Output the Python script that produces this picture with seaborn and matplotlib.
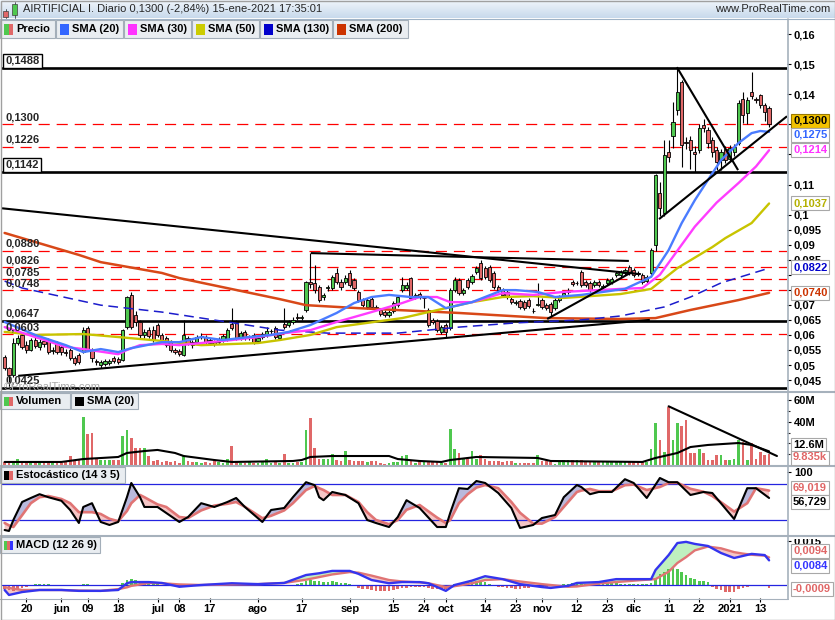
import matplotlib
matplotlib.use("Agg")

import matplotlib.pyplot as plt
from matplotlib.lines import Line2D
from matplotlib.patches import Rectangle
from matplotlib.colors import LinearSegmentedColormap
import numpy as np
import pandas as pd
import seaborn as sns

W, H = 835, 620

# daily candles, 13-may-2020 .. 15-ene-2021
opens = [
    0.0527, 0.0490, 0.0467, 0.0573, 0.0600, 0.0566, 0.0550, 0.0583, 0.0560, 0.0580,
    0.0583, 0.0546, 0.0573, 0.0560, 0.0543, 0.0550, 0.0523, 0.0533, 0.0543, 0.0623,
    0.0550, 0.0512, 0.0500, 0.0503, 0.0507, 0.0523, 0.0520, 0.0517, 0.0626, 0.0733,
    0.0666, 0.0643, 0.0600, 0.0616, 0.0616, 0.0633, 0.0600, 0.0590, 0.0580, 0.0550,
    0.0547, 0.0533, 0.0590, 0.0576, 0.0576, 0.0593, 0.0593, 0.0583, 0.0576, 0.0576,
    0.0583, 0.0583, 0.0636, 0.0643, 0.0590, 0.0610, 0.0590, 0.0600, 0.0580, 0.0593,
    0.0600, 0.0613, 0.0623, 0.0590, 0.0636, 0.0633, 0.0643, 0.0659, 0.0656, 0.0683,
    0.0776, 0.0773, 0.0759, 0.0726, 0.0756, 0.0756, 0.0806, 0.0776, 0.0776, 0.0806,
    0.0782, 0.0743, 0.0716, 0.0693, 0.0719, 0.0693, 0.0683, 0.0676, 0.0666, 0.0679,
    0.0699, 0.0749, 0.0756, 0.0789, 0.0726, 0.0736, 0.0723, 0.0683, 0.0650, 0.0646,
    0.0610, 0.0633, 0.0623, 0.0749, 0.0782, 0.0739, 0.0782, 0.0776, 0.0809, 0.0839,
    0.0822, 0.0826, 0.0806, 0.0759, 0.0749, 0.0743, 0.0719, 0.0706, 0.0713, 0.0709,
    0.0716, 0.0681, 0.0700, 0.0716, 0.0699, 0.0703, 0.0689, 0.0716, 0.0729, 0.0743,
    0.0776, 0.0772, 0.0809, 0.0776, 0.0773, 0.0766, 0.0776, 0.0759, 0.0773, 0.0776,
    0.0799, 0.0799, 0.0806, 0.0826, 0.0816, 0.0806, 0.0799, 0.0779, 0.0806, 0.0899,
    0.1072, 0.1005, 0.1208, 0.1261, 0.1347, 0.1441, 0.1241, 0.1248, 0.1208, 0.1215,
    0.1298, 0.1281, 0.1248, 0.1215, 0.1181, 0.1218, 0.1185, 0.1208, 0.1238, 0.1384,
    0.1337, 0.1407, 0.1384, 0.1397, 0.1364, 0.1355,
]
closes = [
    0.0490, 0.0467, 0.0573, 0.0590, 0.0560, 0.0550, 0.0583, 0.0563, 0.0576, 0.0570,
    0.0543, 0.0550, 0.0543, 0.0543, 0.0540, 0.0523, 0.0507, 0.0510, 0.0616, 0.0550,
    0.0523, 0.0510, 0.0510, 0.0513, 0.0513, 0.0513, 0.0510, 0.0616, 0.0726, 0.0626,
    0.0643, 0.0600, 0.0610, 0.0596, 0.0583, 0.0600, 0.0583, 0.0567, 0.0550, 0.0543,
    0.0537, 0.0600, 0.0573, 0.0567, 0.0593, 0.0596, 0.0576, 0.0573, 0.0570, 0.0586,
    0.0596, 0.0616, 0.0623, 0.0590, 0.0606, 0.0590, 0.0593, 0.0576, 0.0590, 0.0603,
    0.0613, 0.0613, 0.0593, 0.0600, 0.0626, 0.0643, 0.0650, 0.0656, 0.0659, 0.0776,
    0.0770, 0.0749, 0.0716, 0.0733, 0.0759, 0.0792, 0.0776, 0.0759, 0.0789, 0.0766,
    0.0756, 0.0716, 0.0699, 0.0716, 0.0693, 0.0689, 0.0670, 0.0666, 0.0676, 0.0706,
    0.0726, 0.0766, 0.0766, 0.0723, 0.0733, 0.0726, 0.0723, 0.0633, 0.0643, 0.0616,
    0.0626, 0.0610, 0.0749, 0.0782, 0.0739, 0.0749, 0.0759, 0.0796, 0.0822, 0.0789,
    0.0792, 0.0782, 0.0759, 0.0749, 0.0733, 0.0726, 0.0709, 0.0709, 0.0693, 0.0689,
    0.0696, 0.0679, 0.0703, 0.0693, 0.0689, 0.0676, 0.0716, 0.0726, 0.0739, 0.0746,
    0.0769, 0.0773, 0.0766, 0.0766, 0.0749, 0.0776, 0.0766, 0.0762, 0.0782, 0.0786,
    0.0806, 0.0809, 0.0816, 0.0806, 0.0799, 0.0803, 0.0776, 0.0792, 0.0882, 0.1131,
    0.1022, 0.1198, 0.1191, 0.1307, 0.1407, 0.1231, 0.1238, 0.1215, 0.1201, 0.1288,
    0.1288, 0.1238, 0.1208, 0.1175, 0.1208, 0.1181, 0.1221, 0.1225, 0.1371, 0.1331,
    0.1381, 0.1394, 0.1381, 0.1364, 0.1341, 0.1300,
]
highs = [
    0.0533, 0.0495, 0.0590, 0.0600, 0.0606, 0.0580, 0.0590, 0.0596, 0.0586, 0.0590,
    0.0590, 0.0560, 0.0580, 0.0566, 0.0553, 0.0556, 0.0530, 0.0540, 0.0626, 0.0630,
    0.0556, 0.0520, 0.0517, 0.0520, 0.0520, 0.0530, 0.0527, 0.0620, 0.0730, 0.0743,
    0.0680, 0.0650, 0.0620, 0.0626, 0.0630, 0.0640, 0.0606, 0.0596, 0.0583, 0.0556,
    0.0553, 0.0650, 0.0596, 0.0583, 0.0600, 0.0606, 0.0600, 0.0590, 0.0583, 0.0593,
    0.0603, 0.0623, 0.0689, 0.0650, 0.0613, 0.0616, 0.0600, 0.0606, 0.0596, 0.0610,
    0.0626, 0.0620, 0.0630, 0.0606, 0.0689, 0.0650, 0.0660, 0.0673, 0.0666, 0.0780,
    0.0872, 0.0832, 0.0766, 0.0740, 0.0766, 0.0800, 0.0822, 0.0786, 0.0799, 0.0816,
    0.0789, 0.0750, 0.0723, 0.0723, 0.0726, 0.0700, 0.0690, 0.0683, 0.0683, 0.0713,
    0.0733, 0.0792, 0.0776, 0.0792, 0.0740, 0.0743, 0.0730, 0.0690, 0.0656, 0.0653,
    0.0633, 0.0640, 0.0756, 0.0792, 0.0789, 0.0756, 0.0789, 0.0802, 0.0829, 0.0849,
    0.0829, 0.0832, 0.0812, 0.0766, 0.0756, 0.0749, 0.0726, 0.0716, 0.0720, 0.0716,
    0.0723, 0.0690, 0.0773, 0.0723, 0.0706, 0.0710, 0.0723, 0.0733, 0.0746, 0.0756,
    0.0782, 0.0780, 0.0816, 0.0782, 0.0779, 0.0782, 0.0782, 0.0769, 0.0789, 0.0792,
    0.0812, 0.0816, 0.0822, 0.0832, 0.0822, 0.0812, 0.0806, 0.0799, 0.0889, 0.1135,
    0.1108, 0.1248, 0.1248, 0.1374, 0.1488, 0.1447, 0.1258, 0.1261, 0.1228, 0.1301,
    0.1318, 0.1291, 0.1258, 0.1225, 0.1218, 0.1228, 0.1231, 0.1235, 0.1381, 0.1407,
    0.1391, 0.1474, 0.1391, 0.1401, 0.1371, 0.1361,
]
lows = [
    0.0483, 0.0427, 0.0460, 0.0565, 0.0553, 0.0540, 0.0545, 0.0555, 0.0550, 0.0560,
    0.0536, 0.0536, 0.0536, 0.0533, 0.0530, 0.0517, 0.0500, 0.0503, 0.0540, 0.0545,
    0.0510, 0.0500, 0.0490, 0.0497, 0.0500, 0.0507, 0.0503, 0.0513, 0.0620, 0.0620,
    0.0630, 0.0590, 0.0590, 0.0590, 0.0576, 0.0593, 0.0576, 0.0560, 0.0543, 0.0536,
    0.0530, 0.0530, 0.0566, 0.0556, 0.0570, 0.0586, 0.0570, 0.0566, 0.0563, 0.0570,
    0.0576, 0.0580, 0.0616, 0.0583, 0.0583, 0.0583, 0.0583, 0.0570, 0.0573, 0.0586,
    0.0593, 0.0603, 0.0586, 0.0583, 0.0620, 0.0626, 0.0636, 0.0650, 0.0650, 0.0676,
    0.0755, 0.0740, 0.0710, 0.0716, 0.0745, 0.0750, 0.0770, 0.0750, 0.0770, 0.0760,
    0.0750, 0.0710, 0.0693, 0.0686, 0.0686, 0.0683, 0.0663, 0.0660, 0.0660, 0.0673,
    0.0693, 0.0743, 0.0749, 0.0716, 0.0720, 0.0720, 0.0689, 0.0626, 0.0636, 0.0610,
    0.0603, 0.0593, 0.0616, 0.0743, 0.0733, 0.0733, 0.0753, 0.0770, 0.0802, 0.0782,
    0.0786, 0.0776, 0.0753, 0.0743, 0.0726, 0.0720, 0.0703, 0.0699, 0.0686, 0.0683,
    0.0690, 0.0673, 0.0696, 0.0686, 0.0683, 0.0662, 0.0683, 0.0710, 0.0723, 0.0736,
    0.0763, 0.0766, 0.0759, 0.0759, 0.0743, 0.0760, 0.0760, 0.0753, 0.0766, 0.0770,
    0.0792, 0.0792, 0.0799, 0.0799, 0.0792, 0.0796, 0.0770, 0.0772, 0.0799, 0.0880,
    0.0995, 0.0995, 0.1175, 0.1221, 0.1331, 0.1158, 0.1218, 0.1151, 0.1141, 0.1205,
    0.1275, 0.1221, 0.1191, 0.1148, 0.1148, 0.1171, 0.1178, 0.1195, 0.1231, 0.1304,
    0.1301, 0.1384, 0.1371, 0.1354, 0.1311, 0.1291,
]
# volume in millions
volume_m = [
    3, 4, 4, 6, 3, 3, 2, 2, 2, 2,
    2, 2, 2, 2, 3, 8, 5, 6, 44, 29,
    30, 5.5, 5, 5, 5, 5, 5, 27, 32, 25,
    16, 16, 16, 8, 4, 4.5, 3, 4, 3, 4,
    1.5, 8.5, 4, 2.5, 2.5, 1.5, 2.5, 1.5, 3.5, 2.5,
    1.5, 6, 17.6, 3.5, 2, 2, 2.5, 2, 2, 3,
    6, 2, 2.5, 2, 10, 2, 2, 2.5, 3, 32,
    43, 16, 6, 5.5, 5.5, 10, 4.5, 3.5, 13, 4.5,
    3.5, 3.5, 4, 2.5, 3.5, 4, 1.5, 1, 1.5, 2.5,
    2.5, 8, 9, 4, 1.5, 3.5, 3, 4, 3.5, 3,
    1.5, 2, 33, 15, 11, 6, 6, 13, 6, 9,
    6, 4, 4, 3.5, 2.5, 3.5, 3.5, 1.5, 1.5, 2,
    2, 1.5, 9, 3.5, 4, 2.5, 1, 3.5, 4.5, 4.5,
    5, 5, 4.5, 4, 3.5, 3.5, 3.5, 3.5, 4, 4,
    4, 4, 4, 4, 3.5, 3.5, 2.5, 2.5, 15, 39,
    23, 12, 54, 23, 39, 36, 42, 11, 11, 15,
    11, 5, 5, 9, 9, 5, 5, 6, 23, 21,
    5, 20, 6, 12, 9, 9.835,
]
macd_hist = [
    -0.0012, -0.0017, -0.0020, -0.0015, -0.0010, -0.0006, -0.0003, 0.0002, 0.0004, 0.0004,
    0.0002, 0.0000, 0.0000, -0.0001, -0.0003, -0.0005, -0.0005, -0.0003, 0.0002, 0.0004,
    0.0001, -0.0003, -0.0005, -0.0005, -0.0004, -0.0002, 0.0000, 0.0008, 0.0018, 0.0022,
    0.0018, 0.0012, 0.0008, 0.0006, 0.0003, 0.0002, 0.0001, -0.0002, -0.0004, -0.0005,
    -0.0005, -0.0004, -0.0004, -0.0003, -0.0002, -0.0001, 0.0001, 0.0001, 0.0000, 0.0001,
    0.0001, 0.0001, 0.0000, -0.0001, 0.0000, -0.0001, -0.0003, -0.0005, -0.0005, -0.0003,
    0.0001, 0.0001, 0.0001, 0.0001, 0.0001, 0.0001, 0.0001, 0.0003, 0.0008, 0.0014,
    0.0016, 0.0014, 0.0013, 0.0011, 0.0010, 0.0012, 0.0009, 0.0008, 0.0006, 0.0003,
    -0.0003, -0.0011, -0.0013, -0.0015, -0.0017, -0.0019, -0.0021, -0.0022, -0.0021, -0.0017,
    -0.0013, -0.0010, -0.0009, -0.0008, -0.0007, -0.0007, -0.0008, -0.0010, -0.0012, -0.0013,
    -0.0014, -0.0012, -0.0002, 0.0003, 0.0006, 0.0008, 0.0009, 0.0011, 0.0013, 0.0015,
    0.0010, 0.0004, -0.0002, -0.0006, -0.0008, -0.0011, -0.0011, -0.0013, -0.0013, -0.0011,
    -0.0009, -0.0008, -0.0006, -0.0006, -0.0006, -0.0005, -0.0003, 0.0000, 0.0003, 0.0005,
    0.0006, 0.0006, 0.0005, 0.0005, 0.0004, 0.0004, 0.0005, 0.0006, 0.0006, 0.0006,
    0.0006, 0.0005, 0.0005, 0.0004, 0.0004, 0.0003, 0.0003, 0.0002, 0.0006, 0.0023,
    0.0037, 0.0046, 0.0053, 0.0060, 0.0053, 0.0046, 0.0034, 0.0023, 0.0019, 0.0015,
    0.0012, 0.0009, -0.0006, -0.0014, -0.0017, -0.0023, -0.0023, -0.0023, -0.0015, -0.0011,
    -0.0006, -0.0002, 0.0001, 0.0000, -0.0004, -0.0009,
]

# moving averages (bar index, value)
sma20_idx = [0, 7, 14, 18, 22, 26, 29, 36, 40, 45, 50, 56, 61, 65, 70, 76, 80, 84, 88, 93,
             97, 101, 107, 114, 117, 122, 126, 132, 142, 148, 152, 155, 158, 161, 164, 168,
             171, 173, 175]
sma20 = [0.0643, 0.0600, 0.0566, 0.0543, 0.0553, 0.0543, 0.0556, 0.0576, 0.0576, 0.0593,
         0.0583, 0.0593, 0.0600, 0.0610, 0.0633, 0.0673, 0.0706, 0.0726, 0.0733, 0.0726,
         0.0726, 0.0689, 0.0709, 0.0749, 0.0749, 0.0743, 0.0726, 0.0733, 0.0753, 0.0793,
         0.0882, 0.0972, 0.1048, 0.1115, 0.1181, 0.1238, 0.1271, 0.1278, 0.1275]
sma30_idx = [0, 7, 14, 18, 26, 28, 31, 36, 40, 52, 58, 64, 70, 76, 84, 91, 95, 99, 102, 107,
             114, 121, 128, 141, 146, 150, 154, 158, 163, 168, 172, 175]
sma30 = [0.0626, 0.0593, 0.0560, 0.0553, 0.0536, 0.0550, 0.0566, 0.0570, 0.0566, 0.0583,
         0.0593, 0.0606, 0.0616, 0.0643, 0.0676, 0.0706, 0.0726, 0.0726, 0.0709, 0.0709,
         0.0739, 0.0733, 0.0743, 0.0753, 0.0756, 0.0800, 0.0880, 0.0960, 0.1040, 0.1105,
         0.1160, 0.1214]
sma50_idx = [0, 7, 18, 26, 36, 45, 58, 63, 70, 76, 91, 107, 114, 121, 128, 141, 148, 154,
             162, 165, 171, 175]
sma50 = [0.0610, 0.0600, 0.0603, 0.0593, 0.0580, 0.0566, 0.0573, 0.0583, 0.0600, 0.0626,
         0.0656, 0.0709, 0.0726, 0.0729, 0.0723, 0.0736, 0.0753, 0.0822, 0.0892, 0.0922,
         0.0972, 0.1037]
sma130_idx = [0, 4, 22, 36, 51, 63, 74, 90, 104, 117, 132, 141, 151, 157, 164, 175]
sma130 = [0.0779, 0.0756, 0.0699, 0.0676, 0.0643, 0.0616, 0.0606, 0.0606, 0.0626, 0.0640,
          0.0650, 0.0663, 0.0693, 0.0726, 0.0773, 0.0822]
sma200_idx = [0, 17, 22, 36, 40, 63, 69, 81, 104, 124, 141, 149, 157, 168, 175]
sma200 = [0.0939, 0.0866, 0.0842, 0.0806, 0.0789, 0.0719, 0.0699, 0.0689, 0.0673, 0.0656,
          0.0653, 0.0656, 0.0683, 0.0716, 0.0740]

vol_sma_idx = [0, 13, 18, 26, 28, 32, 35, 39, 41, 48, 52, 66, 68, 70, 75, 88, 90, 95, 100,
               102, 108, 122, 125, 146, 149, 154, 157, 161, 168, 171, 175]
vol_sma = [2.8, 2.8, 5.5, 7.4, 11.1, 12.9, 13.9, 11.1, 8.3, 4.6, 2.8, 3.7, 4.6, 7.4, 8.3,
           8.3, 5.5, 3.7, 2.8, 4.6, 7.4, 6.5, 3.7, 2.8, 6.5, 11.1, 16.6, 18.5, 20.3, 18.5, 12.6]

stoch_idx = [0, 1, 2, 4, 6, 8, 10, 13, 15, 17,
             18, 20, 22, 24, 26, 28, 29, 31, 32, 35,
             37, 40, 42, 45, 48, 51, 53, 55, 59, 61,
             64, 66, 69, 71, 72, 73, 75, 78, 81, 83,
             85, 88, 90, 92, 95, 99, 101, 102, 104, 106,
             108, 110, 113, 116, 118, 121, 123, 126, 128, 131,
             132, 134, 136, 139, 142, 144, 147, 150, 152, 154,
             157, 160, 162, 167, 170, 172, 175]
stoch_k = [3.3, 1.7, 20, 50, 56.7, 63, 58, 52, 36.7, 15,
           41.7, 48, 16.7, 11.7, 16.7, 58, 81.7, 58, 41.7, 41.7,
           31.7, 16.7, 25, 48, 41.7, 50, 56.7, 41.7, 16.7, 36.7,
           40, 58, 83, 78, 58, 53, 66.7, 61.7, 48, 20,
           15, 8.3, 25, 53, 40, 8.3, 8.3, 31.7, 73, 71.7,
           85, 81.7, 65, 40, 6.7, 11.7, 23.3, 28.3, 58, 78.3,
           75, 63, 66.7, 66.7, 88, 81.7, 56.7, 90, 83, 83,
           61.7, 66.7, 65, 21.7, 73, 73, 56.7]
stoch_d = [15, 11, 8.3, 28, 48, 58, 60, 55, 48, 33,
           33, 33, 30, 22, 18, 35, 48, 61.7, 58, 46,
           41.7, 25, 23.3, 36, 44, 47, 50, 42, 23, 27,
           36, 48, 70, 76.7, 73, 70, 61.7, 61.7, 50, 33,
           20, 13, 20, 37, 45, 24, 15, 20, 48, 63,
           74, 78.3, 73, 50, 32, 14, 14, 25, 41.7, 66.7,
           69, 71.7, 68, 68, 78, 79, 70, 75, 81.7, 82,
           72, 67, 60, 34, 48, 73, 69]

macd_idx = [0, 1, 4, 8, 13, 17, 22, 26, 28, 29,
            33, 36, 40, 45, 52, 58, 64, 69, 72, 75,
            79, 81, 84, 88, 91, 95, 97, 101, 103, 107,
            110, 114, 118, 123, 125, 129, 131, 136, 140, 146,
            148, 149, 152, 154, 156, 158, 161, 164, 167, 169,
            171, 174, 175]
macd_line = [-0.0017, -0.0034, -0.0024, -0.0017, -0.0017, -0.0020, -0.0020, -0.0017, 0.0006, 0.0010,
             0.0010, 0.0007, -0.0006, 0.0000, 0.0006, 0.0003, 0.0007, 0.0034, 0.0040, 0.0048,
             0.0048, 0.0038, 0.0017, 0.0006, 0.0010, 0.0010, 0.0006, -0.0020, 0.0000, 0.0015,
             0.0030, 0.0020, 0.0003, -0.0007, -0.0010, -0.0003, 0.0007, 0.0010, 0.0020, 0.0020,
             0.0020, 0.0051, 0.0102, 0.0143, 0.0147, 0.0140, 0.0133, 0.0109, 0.0092, 0.0099,
             0.0106, 0.0102, 0.0084]
macd_signal = [-0.0007, -0.0010, -0.0017, -0.0017, -0.0017, -0.0019, -0.0020, -0.0014, -0.0008, -0.0003,
               0.0007, 0.0006, 0.0002, 0.0000, 0.0002, 0.0003, 0.0007, 0.0018, 0.0027, 0.0036,
               0.0044, 0.0042, 0.0032, 0.0017, 0.0012, 0.0009, 0.0006, -0.0007, -0.0004, 0.0006,
               0.0017, 0.0020, 0.0012, 0.0003, 0.0000, -0.0006, -0.0005, 0.0005, 0.0010, 0.0017,
               0.0019, 0.0020, 0.0045, 0.0075, 0.0095, 0.0118, 0.0131, 0.0125, 0.0112, 0.0107,
               0.0103, 0.0100, 0.0094]

# levels and hand-drawn lines on the price chart
levels_solid = [0.1488, 0.1142, 0.0647, 0.0425]
levels_dashed = [0.1300, 0.1226, 0.0880, 0.0826, 0.0785, 0.0748, 0.0603]
trend_lines = [
    ((-0.6, 0.1021), (145.5, 0.0802)),
    ((70.1, 0.0872), (142.9, 0.0846)),
    ((3.1, 0.0464), (147.7, 0.0650)),
    ((124.2, 0.0653), (143.6, 0.0809)),
    ((149.8, 0.0985), (179.1, 0.1327)),
    ((153.9, 0.1490), (167.9, 0.1148)),
]
arrow_line = ((176.8, 0.1318), (179.6, 0.1475))
volume_line = ((152, 54.2), (176.8, 8.3))

# right price axis: ticks whose labels are hidden behind the value boxes get no text
price_ticks = [0.045, 0.05, 0.055, 0.06, 0.065, 0.07, 0.075, 0.08, 0.085, 0.09, 0.095, 0.1,
               0.11, 0.12, 0.13, 0.14, 0.15, 0.16]
price_hidden = [0.075, 0.08, 0.12, 0.13]

tick_dates = ["2020-05-20", "2020-06-01", "2020-06-09", "2020-06-18", "2020-07-01",
              "2020-07-08", "2020-07-17", "2020-08-03", "2020-08-17", "2020-09-01",
              "2020-09-15", "2020-09-24", "2020-10-01", "2020-10-14", "2020-10-23",
              "2020-11-02", "2020-11-12", "2020-11-23", "2020-12-01", "2020-12-11",
              "2020-12-22", "2021-01-04", "2021-01-13"]
tick_labels = ["20", "jun", "09", "18", "jul", "08", "17", "ago", "17", "sep", "15", "24",
               "oct", "14", "23", "nov", "12", "23", "dic", "11", "22", "2021", "13"]

GREEN = "#4fc84f"
RED = "#e06868"


def fx(x):
    return x / W


def fy(y):
    return 1 - y / H


def fig_line(fig, x0, y0, x1, y1, color, lw, z=4):
    fig.add_artist(Line2D([fx(x0), fx(x1)], [fy(y0), fy(y1)], transform=fig.transFigure,
                          color=color, lw=lw, zorder=z))


def fig_rect(fig, x0, y0, x1, y1, fc, ec="none", lw=0.0, z=5):
    fig.add_artist(Rectangle((fx(x0), fy(y1)), (x1 - x0) / W, (y1 - y0) / H,
                             transform=fig.transFigure, fc=fc, ec=ec, lw=lw, zorder=z))


def legend_box(fig, x0, x1, y0, y1, label, swatches):
    fig_rect(fig, x0, y0, x1, y1, "#e9edf1", "#a3aeb9", 0.8, z=5)
    n = len(swatches)
    for k, c in enumerate(swatches):
        fig_rect(fig, x0 + 4 + k * 9 / n, y0 + 3.5, x0 + 4 + (k + 1) * 9 / n, y1 - 3.5, c, z=6)
    fig.text(fx(x0 + 16), fy((y0 + y1) / 2 + 0.5), label, fontsize=8, va="center", ha="left",
             color="black", zorder=7)


def value_box(fig, y, text, color, bg="white", ec="#a8a8a8"):
    fig.text(fx(793), fy(y), text, fontsize=8, color=color, va="center", ha="left", zorder=8,
             bbox=dict(boxstyle="square,pad=0.18", fc=bg, ec=ec, lw=0.8))


def panel(fig, top, bottom):
    ax = fig.add_axes([2 / W, 1 - bottom / H, 785 / W, (bottom - top) / H])
    ax.set_facecolor("white")
    ax.set_xlim(-0.6, 179.1)
    for s in ax.spines.values():
        s.set_visible(False)
    ax.yaxis.tick_right()
    ax.tick_params(axis="y", right=True, left=False, labelright=True, labelleft=False,
                   direction="out", length=3, width=0.8, pad=2, labelsize=8, colors="black")
    ax.tick_params(axis="x", bottom=False, labelbottom=False)
    return ax


def main():
    sns.set_style("white")
    plt.rcParams["font.family"] = ["Liberation Sans", "DejaVu Sans"]
    plt.rcParams["font.weight"] = "bold"
    plt.rcParams["lines.scale_dashes"] = False
    plt.rcParams["axes.unicode_minus"] = False

    days = pd.bdate_range("2020-05-13", "2021-01-15")
    days = days[~days.isin(pd.to_datetime(["2020-12-25", "2021-01-01"]))]
    idx = np.arange(len(days))
    tick_pos = [days.get_loc(pd.Timestamp(d)) for d in tick_dates]

    o = np.array(opens)
    c = np.array(closes)
    up = c >= o
    colors = np.where(up, GREEN, RED)

    fig = plt.figure(figsize=(W / 100, H / 100), dpi=100)
    fig.patch.set_facecolor("white")

    # ---------------- price ----------------
    ax = panel(fig, 20, 391)
    ax.set_ylim(0.04136, 0.1647)
    ax.set_yticks(price_ticks, ["" if v in price_hidden else f"{v:g}".replace(".", ",")
                                for v in price_ticks])

    for v in levels_dashed:
        ax.axhline(v, color="#ff0000", lw=0.9, ls=(0, (8, 5)), zorder=2)
    for v in levels_solid:
        ax.axhline(v, color="black", lw=1.9, zorder=2.2)

    ax.vlines(idx, lows, highs, color="black", lw=0.8, zorder=3)
    ax.bar(idx, np.maximum(np.abs(c - o), 0.00012), bottom=np.minimum(o, c), width=0.74,
           color=colors, edgecolor="black", linewidth=0.6, zorder=3.5)

    sns.lineplot(x=sma200_idx, y=sma200, ax=ax, color="#d84818", lw=1.8, zorder=4)
    sns.lineplot(x=sma130_idx, y=sma130, ax=ax, color="#1c1ccc", lw=1.1, zorder=4)
    ax.lines[-1].set_linestyle((0, (7, 4)))
    sns.lineplot(x=sma50_idx, y=sma50, ax=ax, color="#c8c400", lw=1.7, zorder=4)
    sns.lineplot(x=sma30_idx, y=sma30, ax=ax, color="#ff3cff", lw=1.7, zorder=4)
    sns.lineplot(x=sma20_idx, y=sma20, ax=ax, color="#4a7cff", lw=1.7, zorder=4)

    for (x0, y0), (x1, y1) in trend_lines:
        ax.plot([x0, x1], [y0, y1], color="black", lw=1.5, zorder=5, solid_capstyle="butt")
    ann = ax.annotate("", xy=arrow_line[1], xytext=arrow_line[0],
                      arrowprops=dict(arrowstyle="-|>,head_length=1.2,head_width=0.5",
                                      fc="white", ec="black", lw=1.3, mutation_scale=10,
                                      shrinkA=0, shrinkB=0), zorder=5)
    ann.arrow_patch.set_clip_box(ax.bbox)
    ann.arrow_patch.set_clip_on(True)

    for v in levels_solid + levels_dashed:
        boxed = v in (0.1488, 0.1142)
        ax.annotate(f"{v:.4f}".replace(".", ","), xy=(0, v), xycoords=ax.get_yaxis_transform(),
                    xytext=(2.2, 1.4), textcoords="offset points", fontsize=8, va="bottom",
                    ha="left", zorder=7,
                    bbox=dict(boxstyle="square,pad=0.2", fc="white", ec="black", lw=1.0)
                    if boxed else None)

    # ---------------- volume ----------------
    axv = panel(fig, 392, 465)
    axv.set_ylim(0, 67.4)
    axv.bar(idx, volume_m, width=0.62, color=colors, linewidth=0, zorder=2)
    sns.lineplot(x=vol_sma_idx, y=vol_sma, ax=axv, color="black", lw=1.5, zorder=3)
    axv.plot([volume_line[0][0], volume_line[1][0]], [volume_line[0][1], volume_line[1][1]],
             color="black", lw=1.5, zorder=4)
    axv.set_yticks([40, 60], ["40M", "60M"])
    axv.set_yticks([10, 20, 30, 50], minor=True)
    axv.tick_params(axis="y", which="minor", right=True, length=2, width=0.8)

    # ---------------- stochastic ----------------
    axs = panel(fig, 466, 535)
    axs.set_ylim(-5, 110)
    k = np.array(stoch_k)
    d = np.array(stoch_d)
    axs.fill_between(stoch_idx, k, d, where=k >= d, interpolate=True, color="#b9b9dc",
                     lw=0, zorder=2)
    axs.fill_between(stoch_idx, k, d, where=k < d, interpolate=True, color="#f5c6c6",
                     lw=0, zorder=2)
    axs.axhline(80, color="#2424e0", lw=0.9, zorder=2.5)
    axs.axhline(20, color="#2424e0", lw=0.9, zorder=2.5)
    sns.lineplot(x=stoch_idx, y=stoch_d, ax=axs, color="#e07474", lw=1.9, zorder=3)
    sns.lineplot(x=stoch_idx, y=stoch_k, ax=axs, color="black", lw=1.5, zorder=4)
    axs.set_yticks([100], ["100"])

    # ---------------- MACD ----------------
    axm = panel(fig, 536, 598)
    axm.set_ylim(-0.00443, 0.0167)
    hist = np.array(macd_hist)
    axm.bar(idx, hist, width=0.62, color=np.where(hist >= 0, GREEN, RED), linewidth=0, zorder=2)
    m = np.array(macd_line)
    s = np.array(macd_signal)
    axm.fill_between(macd_idx, m, s, where=m >= s, interpolate=True, color="#bff0bf",
                     lw=0, zorder=1.8)
    axm.fill_between(macd_idx, m, s, where=m < s, interpolate=True, color="#f5c6c6",
                     lw=0, zorder=1.8)
    axm.axhline(0, color="#2424e0", lw=0.9, zorder=2.5)
    sns.lineplot(x=macd_idx, y=macd_signal, ax=axm, color="#e07474", lw=1.7, zorder=3)
    sns.lineplot(x=macd_idx, y=macd_line, ax=axm, color="#3434ee", lw=1.7, zorder=4)
    axm.set_yticks([0.015], ["0,015"])
    axm.set_xticks(tick_pos, tick_labels)
    axm.tick_params(axis="x", bottom=True, labelbottom=True, direction="out", length=3,
                    width=0.8, pad=1.5, labelsize=8, colors="black")

    # ---------------- frame ----------------
    top = fig.add_axes([0, 1 - 18 / H, 1, 18 / H])
    grad = LinearSegmentedColormap.from_list("bar", ["#f0f5fb", "#c8daec"])
    top.imshow(np.linspace(0, 1, 32).reshape(-1, 1), aspect="auto", cmap=grad,
               extent=(0, 1, 0, 1))
    top.axis("off")
    fig_line(fig, 0, 18.5, W, 18.5, "#9fb3c6", 0.8)

    fig_rect(fig, 788, 529, W, 538.5, "white", z=1.5)
    for yy in (391.5, 465.5, 535.5):
        fig_line(fig, 0, yy, W, yy, "#a6b1bc", 1.5)
    fig_line(fig, 0, 598.5, 787.5, 598.5, "#a6b1bc", 0.8)
    fig_line(fig, 787.5, 18.5, 787.5, 598.5, "#a6b1bc", 1.2)
    fig_rect(fig, 0.5, 0.5, W - 0.5, H - 0.5, "none", "#a0a0a0", 1.0, z=9)

    # title bar
    fig_rect(fig, 3, 11, 8, 17, RED, "#404040", 0.5, z=6)
    fig_rect(fig, 12, 4, 17, 15, GREEN, "#404040", 0.5, z=6)
    fig_line(fig, 14.5, 1.5, 14.5, 17.5, "#404040", 0.6, z=5.5)
    fig_line(fig, 5.5, 8.5, 5.5, 18, "#404040", 0.6, z=5.5)
    fig.text(fx(23), fy(9.5), "AIRTIFICIAL I. Diario 0,1300 (-2,84%) 15-ene-2021 17:35:01",
             fontsize=8, fontweight="normal", va="center", ha="left", zorder=7)
    fig.text(fx(830), fy(9.5), "www.ProRealTime.com", fontsize=8, fontweight="normal",
             va="center", ha="right", zorder=7)

    legend_box(fig, 0, 55, 20, 38, "Precio", [GREEN, RED])
    legend_box(fig, 56, 123, 20, 38, "SMA (20)", ["#3366ff"])
    legend_box(fig, 124, 191, 20, 38, "SMA (30)", ["#ff33ff"])
    legend_box(fig, 192, 259, 20, 38, "SMA (50)", ["#cccc00"])
    legend_box(fig, 260, 332, 20, 38, "SMA (130)", ["#0000cc"])
    legend_box(fig, 333, 408, 20, 38, "SMA (200)", ["#cc3300"])
    legend_box(fig, 0, 70, 393, 409, "Volumen", [GREEN, RED])
    legend_box(fig, 71, 138, 393, 409, "SMA (20)", ["black"])
    legend_box(fig, 0, 125, 467, 483, "Estocástico (14 3 5)", ["black", RED])
    legend_box(fig, 0, 100, 537, 553, "MACD (12 26 9)", [GREEN, RED, "#3333ff"])

    fig.text(fx(4), fy(387), "©ProRealTime.com", fontsize=8, fontweight="normal",
             color="#a8a8a8", va="center", ha="left", zorder=3)

    value_box(fig, 120.5, "0,1300", "black", bg="#f2c200", ec="#9a7a00")
    value_box(fig, 134.5, "0,1275", "#3366ff")
    value_box(fig, 149.5, "0,1214", "#ff33ff")
    value_box(fig, 203, "0,1037", "#b4b000")
    value_box(fig, 267.5, "0,0822", "#0000cc")
    value_box(fig, 292.5, "0,0740", "#cc3300")
    value_box(fig, 444.5, "12.6M", "black")
    value_box(fig, 457.5, "9.835k", "#e06666")
    value_box(fig, 488, "69,019", "#e06666")
    value_box(fig, 502, "56,729", "black")
    value_box(fig, 550.5, "0,0094", "#e06666")
    value_box(fig, 566, "0,0084", "#3333ff")
    value_box(fig, 588.5, "-0,0009", "#e06666")

    fig.savefig("out.png", dpi=100, facecolor="white")
    plt.close(fig)


if __name__ == "__main__":
    main()
